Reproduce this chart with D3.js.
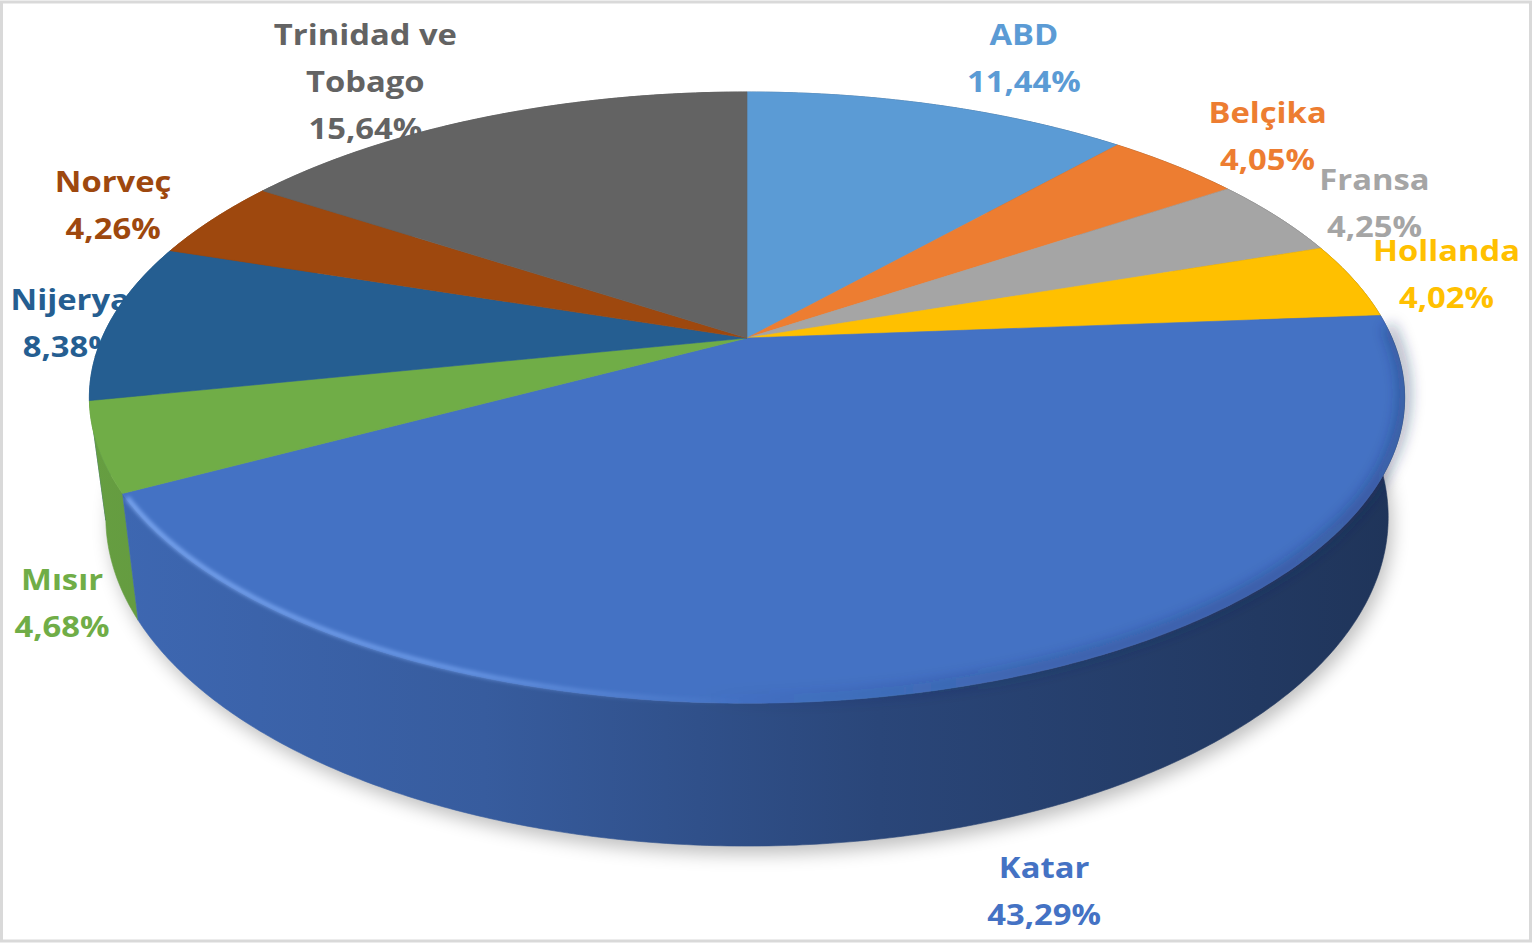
<!DOCTYPE html>
<html>
<head>
<meta charset="utf-8">
<script src="https://cdn.jsdelivr.net/npm/d3@7"></script>
<style>
  html, body { margin: 0; padding: 0; background: #fff; }
  svg { display: block; }
</style>
</head>
<body>
<svg id="chart" width="1532" height="943"></svg>
<script>
// ---- data ----
const categories = ["ABD", "Belçika", "Fransa", "Hollanda", "Katar", "Mısır", "Nijerya", "Norveç", "Trinidad ve Tobago"];
const values = [11.44, 4.05, 4.25, 4.02, 43.29, 4.68, 8.38, 4.26, 15.64];
const colors = ["#5B9BD5", "#ED7D31", "#A5A5A5", "#FFC000", "#4472C4", "#70AD47", "#255E91", "#9E480E", "#636363"];
// label offsets from the rim point at each slice's mid angle (layout only)
const labelOffsets = [[85, -47], [93, -29], [97, -13], [92, -6], [71, 207], [-36, 157], [-40, 2], [-100, -14], [-122, -35]];

// ---- geometry ----
const W = 1532, H = 943;
const cx = 747, cy = 338, rx = 645, ry = 294, k = 0.195, depth = 115, bottomScale = 0.975;

function proj(theta) {
  const X = Math.sin(theta), Z = -Math.cos(theta);
  const den = 1 - k * Z;
  return [cx + rx * X / den, cy + ry * Z / den, den];
}
function projBottom(theta) {
  const p = proj(theta);
  return [cx + (p[0] - cx) * bottomScale, p[1] + depth / p[2]];
}
function sample(a0, a1) {
  const n = Math.max(2, Math.ceil(Math.abs(a1 - a0) / (Math.PI / 360)));
  return d3.range(n + 1).map(i => a0 + (a1 - a0) * i / n);
}

const svg = d3.select("#chart");
const defs = svg.append("defs");
const line = d3.line();

// border
svg.append("rect").attr("x", 1.5).attr("y", 2).attr("width", W - 3).attr("height", H - 4)
  .attr("fill", "#fff").attr("stroke", "#d9d9d9").attr("stroke-width", 3);

const pie = d3.pie().sort(null).value(d => d).startAngle(0).endAngle(2 * Math.PI);
const arcs = pie(values);

// ---- labels (drawn first, pie overlaps them) ----
function wrap(name) {
  if (name.length <= 12) return [name];
  const words = name.split(" ");
  const out = []; let cur = "";
  words.forEach(w => {
    const t = cur ? cur + " " + w : w;
    if (t.length > 11 && cur) { out.push(cur); cur = w; } else cur = t;
  });
  if (cur) out.push(cur);
  return out;
}
const fmt = v => v.toFixed(2).replace(".", ",") + "%";
const lineH = 47;
const labelG = svg.append("g");
arcs.forEach((a, i) => {
  const mid = (a.startAngle + a.endAngle) / 2;
  const p = proj(mid);
  const lx = p[0] + labelOffsets[i][0];
  const ly = p[1] + labelOffsets[i][1];
  const lines = wrap(categories[i]).concat([fmt(values[i])]);
  const n = lines.length;
  lines.forEach((t, j) => {
    const lc = ly + (j - (n - 1) / 2) * lineH;
    labelG.append("text")
      .attr("transform", `translate(${lx},${lc + 10}) scale(1.17,1)`)
      .attr("text-anchor", "middle")
      .attr("font-family", "'Open Sans', 'Liberation Sans', sans-serif")
      .attr("font-weight", 700)
      .attr("font-size", 28)
      .attr("fill", colors[i])
      .text(t);
  });
});

// ---- shadow ----
const fShadow = defs.append("filter").attr("id", "shadow").attr("x", "-20%").attr("y", "-20%").attr("width", "140%").attr("height", "140%");
fShadow.append("feGaussianBlur").attr("stdDeviation", 9);
const full = sample(0, 2 * Math.PI);
svg.append("path")
  .attr("d", line(full.map(t => { const b = projBottom(t); return [b[0] + 4, b[1] + 8]; })) + "Z")
  .attr("fill", "#000").attr("opacity", 0.25).attr("filter", "url(#shadow)");

// ---- side walls ----
const sideG = svg.append("g");
const order = arcs.map((a, i) => i).sort((i, j) => {
  const zi = -Math.cos((arcs[i].startAngle + arcs[i].endAngle) / 2);
  const zj = -Math.cos((arcs[j].startAngle + arcs[j].endAngle) / 2);
  return zi - zj;
});
order.forEach(i => {
  const a = arcs[i];
  const g = defs.append("linearGradient").attr("id", "side" + i)
    .attr("gradientUnits", "userSpaceOnUse").attr("x1", 90).attr("x2", 1405).attr("y1", 0).attr("y2", 0);
  const c = d3.color(colors[i]);
  g.append("stop").attr("offset", 0).attr("stop-color", c.darker(0.25));
  g.append("stop").attr("offset", 0.3).attr("stop-color", c.darker(0.6));
  g.append("stop").attr("offset", 0.6).attr("stop-color", c.darker(1.35));
  g.append("stop").attr("offset", 1).attr("stop-color", c.darker(2.2));
  const ts = sample(a.startAngle, a.endAngle);
  const pts = ts.map(t => proj(t).slice(0, 2)).concat(ts.slice().reverse().map(t => projBottom(t)));
  sideG.append("path").attr("d", line(pts) + "Z").attr("fill", `url(#side${i})`)
    .attr("stroke", `url(#side${i})`).attr("stroke-width", 0.6);
});

// ---- top faces ----
const topG = svg.append("g");
arcs.forEach((a, i) => {
  const ts = sample(a.startAngle, a.endAngle);
  const pts = [[cx, cy]].concat(ts.map(t => proj(t).slice(0, 2)));
  topG.append("path").attr("d", line(pts) + "Z").attr("fill", colors[i])
    .attr("stroke", colors[i]).attr("stroke-width", 0.6).attr("stroke-linejoin", "round");
});

// ---- rim highlight / bevel ----
const fBlur = defs.append("filter").attr("id", "blur").attr("x", "-10%").attr("y", "-10%").attr("width", "120%").attr("height", "120%");
fBlur.append("feGaussianBlur").attr("stdDeviation", 2);
const fBlur2 = defs.append("filter").attr("id", "blur2").attr("x", "-10%").attr("y", "-10%").attr("width", "120%").attr("height", "120%");
fBlur2.append("feGaussianBlur").attr("stdDeviation", 7);

const hl = defs.append("linearGradient").attr("id", "hl").attr("gradientUnits", "userSpaceOnUse")
  .attr("x1", 120).attr("x2", 900).attr("y1", 0).attr("y2", 0);
hl.append("stop").attr("offset", 0).attr("stop-color", "#8db8ff").attr("stop-opacity", 0.9);
hl.append("stop").attr("offset", 0.45).attr("stop-color", "#7aa8f5").attr("stop-opacity", 0.8);
hl.append("stop").attr("offset", 0.8).attr("stop-color", "#6f9de8").attr("stop-opacity", 0.0);

const dk = defs.append("linearGradient").attr("id", "dk").attr("gradientUnits", "userSpaceOnUse")
  .attr("x1", 700).attr("x2", 1400).attr("y1", 0).attr("y2", 0);
dk.append("stop").attr("offset", 0).attr("stop-color", "#1a2c5a").attr("stop-opacity", 0.0);
dk.append("stop").attr("offset", 0.5).attr("stop-color", "#1a2c5a").attr("stop-opacity", 0.3);
dk.append("stop").attr("offset", 1).attr("stop-color", "#1a2c5a").attr("stop-opacity", 0.4);

const katar = arcs[4];
const rimTs = sample(katar.startAngle + 0.05, katar.endAngle - 0.02);
svg.append("path")
  .attr("d", line(rimTs.map(t => { const p = proj(t); return [p[0], p[1] - 4]; })))
  .attr("fill", "none").attr("stroke", "url(#dk)").attr("stroke-width", 12).attr("filter", "url(#blur2)");
svg.append("path")
  .attr("d", line(rimTs.map(t => { const p = proj(t); return [p[0], p[1] - 2]; })))
  .attr("fill", "none").attr("stroke", "url(#hl)").attr("stroke-width", 4).attr("filter", "url(#blur)");
</script>
</body>
</html>
